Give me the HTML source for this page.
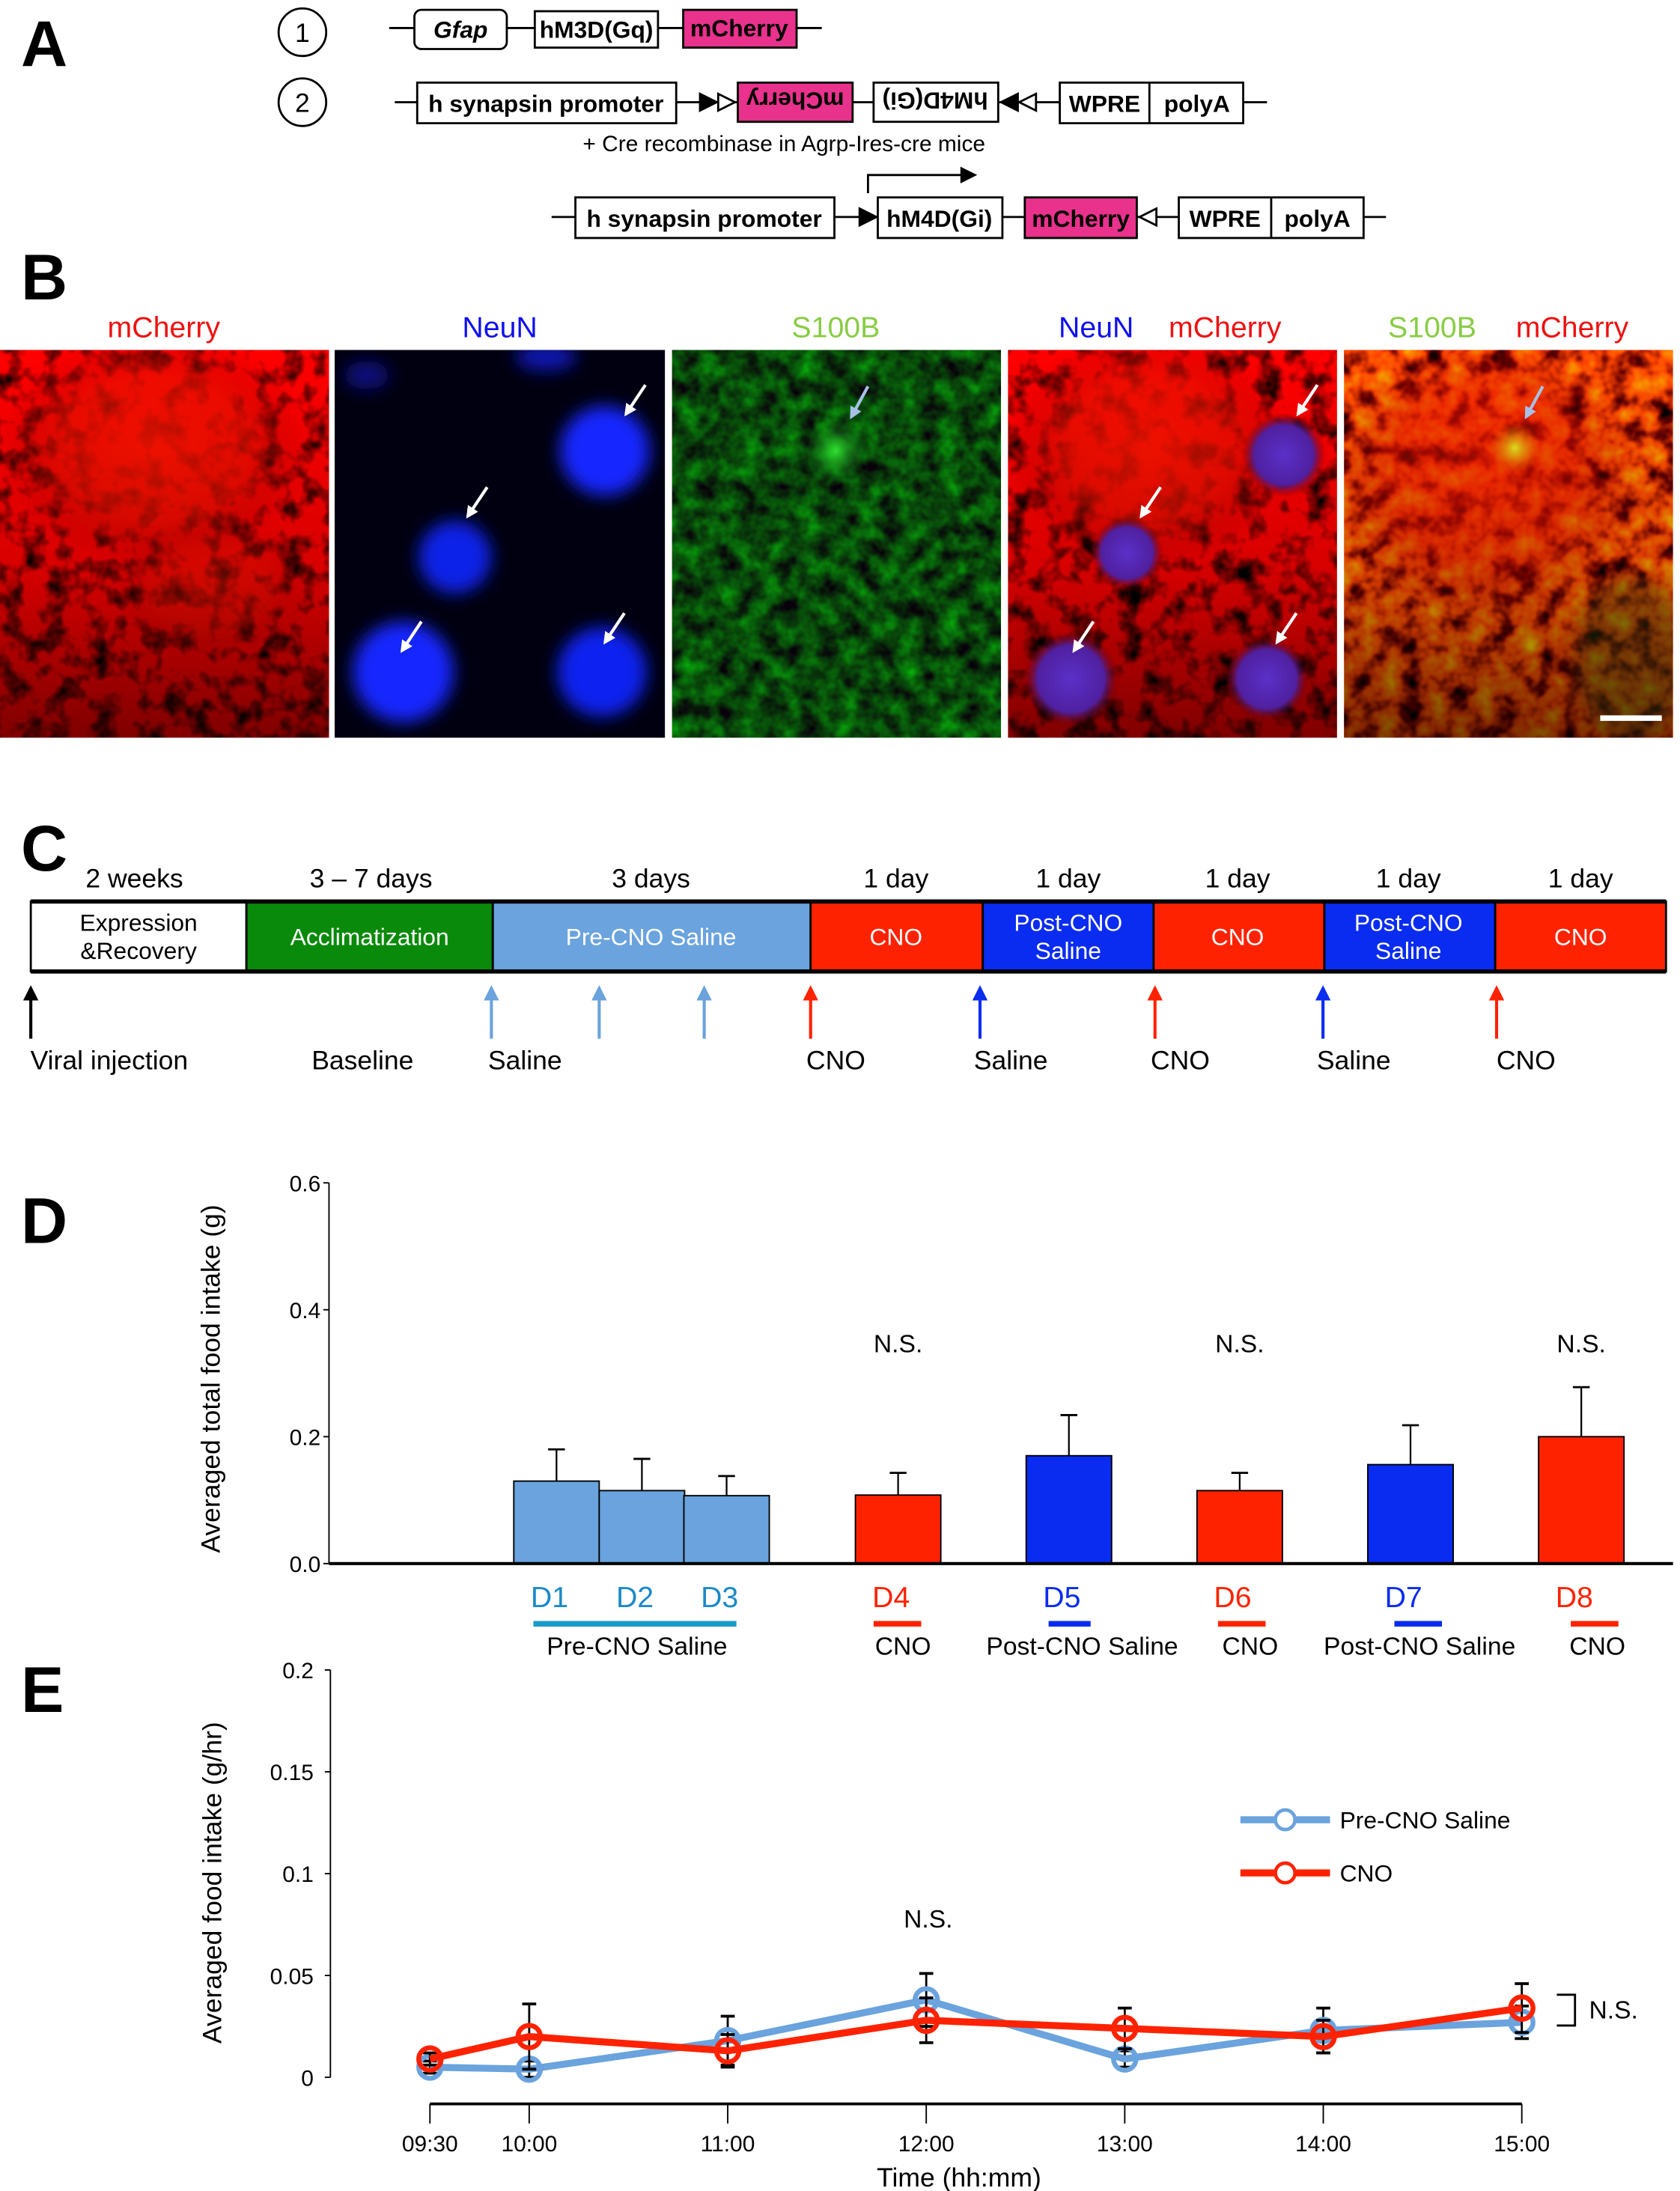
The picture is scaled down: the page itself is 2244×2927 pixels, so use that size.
<!DOCTYPE html>
<html><head><meta charset="utf-8"><style>
html,body{margin:0;padding:0;background:#fff;}
svg{display:block;font-family:"Liberation Sans",Arial,sans-serif;}
</style></head><body>
<svg id="fig" width="2244" height="2927" viewBox="0 0 1200 1565.2" xmlns="http://www.w3.org/2000/svg">
<defs>
<filter id="nR" x="0" y="0" width="1" height="1" color-interpolation-filters="sRGB"><feTurbulence type="fractalNoise" baseFrequency="0.06" numOctaves="3" seed="3"/><feColorMatrix values="2.6 0 0 0 -0.45  0 0 0 0 0  0 0 0 0 0  0 0 0 0 1"/></filter>
<filter id="nG" x="0" y="0" width="1" height="1" color-interpolation-filters="sRGB"><feTurbulence type="fractalNoise" baseFrequency="0.07" numOctaves="3" seed="7"/><feColorMatrix values="0 0 0 0 0.03  0.9 0 0 0 -0.17  0 0 0 0 0.04  0 0 0 0 1"/></filter>
<filter id="nY" x="0" y="0" width="1" height="1" color-interpolation-filters="sRGB"><feTurbulence type="fractalNoise" baseFrequency="0.06" numOctaves="3" seed="11"/><feColorMatrix values="2.6 0 0 0 -0.35  1.2 0 0 0 -0.35  0 0 0 0 0  0 0 0 0 1"/></filter>
<filter id="bl"><feGaussianBlur stdDeviation="6"/></filter>
<clipPath id="c1"><rect x="0" y="250" width="235" height="277"/></clipPath>
<clipPath id="c2"><rect x="239" y="250" width="236" height="277"/></clipPath>
<clipPath id="c3"><rect x="480" y="250" width="235" height="277"/></clipPath>
<clipPath id="c4"><rect x="720" y="250" width="235" height="277"/></clipPath>
<clipPath id="c5"><rect x="960" y="250" width="235" height="277"/></clipPath>
<linearGradient id="dark" x1="0" y1="0" x2="0" y2="1"><stop offset="0" stop-color="#000" stop-opacity="0"/><stop offset="0.55" stop-color="#000" stop-opacity="0.15"/><stop offset="1" stop-color="#000" stop-opacity="0.5"/></linearGradient>
<radialGradient id="gPur"><stop offset="0" stop-color="#5a30c8"/><stop offset="0.7" stop-color="#5020a0"/><stop offset="1" stop-color="#600" stop-opacity="0"/></radialGradient>
<radialGradient id="gRed"><stop offset="0" stop-color="#ff1500"/><stop offset="0.6" stop-color="#ee1000" stop-opacity="0.8"/><stop offset="1" stop-color="#a00" stop-opacity="0"/></radialGradient>
<radialGradient id="gGr"><stop offset="0" stop-color="#30e030"/><stop offset="1" stop-color="#0a6010" stop-opacity="0"/></radialGradient>
<radialGradient id="gYe"><stop offset="0" stop-color="#e8f020"/><stop offset="1" stop-color="#f08000" stop-opacity="0"/></radialGradient>
<marker id="aW" viewBox="0 0 10 10" refX="8" refY="5" markerWidth="4" markerHeight="4" orient="auto"><path d="M0,0 L10,5 L0,10 Z" fill="#fff"/></marker>
<marker id="aL" viewBox="0 0 10 10" refX="8" refY="5" markerWidth="4" markerHeight="4" orient="auto"><path d="M0,0 L10,5 L0,10 Z" fill="#a8c0e8"/></marker>
<marker id="aK" viewBox="0 0 10 10" refX="8" refY="5" markerWidth="5" markerHeight="5" orient="auto"><path d="M0,0 L10,5 L0,10 Z" fill="#000"/></marker>
<marker id="aS" viewBox="0 0 10 10" refX="8" refY="5" markerWidth="5" markerHeight="5" orient="auto"><path d="M0,0 L10,5 L0,10 Z" fill="#6aa3dd"/></marker>
<marker id="aR" viewBox="0 0 10 10" refX="8" refY="5" markerWidth="5" markerHeight="5" orient="auto"><path d="M0,0 L10,5 L0,10 Z" fill="#ff2200"/></marker>
<marker id="aB" viewBox="0 0 10 10" refX="8" refY="5" markerWidth="5" markerHeight="5" orient="auto"><path d="M0,0 L10,5 L0,10 Z" fill="#0a2cf0"/></marker>
</defs>

<!-- Panel A -->
<g>
<text x="15" y="47" font-size="46" font-weight="bold">A</text>
<circle cx="216" cy="23" r="17" fill="#fff" stroke="#000" stroke-width="1.5"/><text x="216" y="30" font-size="19" text-anchor="middle">1</text>
<circle cx="216" cy="73" r="17" fill="#fff" stroke="#000" stroke-width="1.5"/><text x="216" y="80" font-size="19" text-anchor="middle">2</text>
<g stroke="#000" stroke-width="1.5">
<line x1="278" y1="20" x2="587" y2="20"/>
<rect x="296" y="7" width="66" height="28" rx="5" fill="#fff"/>
<rect x="382" y="8" width="88" height="26" fill="#fff"/>
<rect x="488" y="7" width="81" height="27" fill="#e8328c"/>
</g>
<text x="329" y="27" font-size="17" font-style="italic" font-weight="bold" text-anchor="middle">Gfap</text>
<text x="426" y="27" font-size="17" font-weight="bold" text-anchor="middle">hM3D(Gq)</text>
<text x="528" y="26" font-size="17" font-weight="bold" text-anchor="middle">mCherry</text>
<g stroke="#000" stroke-width="1.5">
<line x1="282" y1="73" x2="905" y2="73"/>
<rect x="298" y="59" width="185" height="29" fill="#fff"/>
<rect x="527" y="59" width="82" height="28" fill="#e8328c"/>
<rect x="624" y="59" width="89" height="28" fill="#fff"/>
<rect x="757" y="59" width="131" height="29" fill="#fff"/><line x1="821" y1="59" x2="821" y2="88"/>
<path d="M500,67 L512,73 L500,79Z" fill="#000"/><path d="M513,67 L525,73 L513,79Z" fill="#fff"/>
<path d="M727,67 L715,73 L727,79Z" fill="#000"/><path d="M740,67 L728,73 L740,79Z" fill="#fff"/>
</g>
<text x="390" y="80" font-size="17" font-weight="bold" text-anchor="middle">h synapsin promoter</text>
<text x="568" y="80" font-size="17" font-weight="bold" text-anchor="middle" transform="rotate(180 568 73)">mCherry</text>
<text x="668" y="80" font-size="17" font-weight="bold" text-anchor="middle" transform="rotate(180 668 73)">hM4D(Gi)</text>
<text x="789" y="80" font-size="17" font-weight="bold" text-anchor="middle">WPRE</text>
<text x="855" y="80" font-size="17" font-weight="bold" text-anchor="middle">polyA</text>
<text x="560" y="108" font-size="16" text-anchor="middle">+ Cre recombinase in Agrp-Ires-cre mice</text>
<path d="M620,138 L620,125 L688,125" stroke="#000" stroke-width="1.5" fill="none"/><path d="M686,119 L698,125 L686,131Z"/>
<g stroke="#000" stroke-width="1.5">
<line x1="394" y1="155" x2="990" y2="155"/>
<rect x="411" y="141" width="185" height="29" fill="#fff"/>
<rect x="627" y="141" width="89" height="29" fill="#fff"/>
<rect x="732" y="141" width="80" height="29" fill="#e8328c"/>
<rect x="842" y="141" width="132" height="29" fill="#fff"/><line x1="908" y1="141" x2="908" y2="170"/>
<path d="M614,149 L626,155 L614,161Z" fill="#000"/><path d="M826,149 L814,155 L826,161Z" fill="#fff"/>
</g>
<text x="503" y="162" font-size="17" font-weight="bold" text-anchor="middle">h synapsin promoter</text>
<text x="671" y="162" font-size="17" font-weight="bold" text-anchor="middle">hM4D(Gi)</text>
<text x="772" y="162" font-size="17" font-weight="bold" text-anchor="middle">mCherry</text>
<text x="875" y="162" font-size="17" font-weight="bold" text-anchor="middle">WPRE</text>
<text x="941" y="162" font-size="17" font-weight="bold" text-anchor="middle">polyA</text>
</g>

<!-- Panel B -->
<g>
<text x="15" y="214" font-size="46" font-weight="bold">B</text>
<g font-size="21" text-anchor="middle">
<text x="117" y="241" fill="#ee1111">mCherry</text>
<text x="357" y="241" fill="#1010ee">NeuN</text>
<text x="597" y="241" fill="#88cc44">S100B</text>
<text x="783" y="241" fill="#1010ee">NeuN</text><text x="875" y="241" fill="#ee1111">mCherry</text>
<text x="1023" y="241" fill="#88cc44">S100B</text><text x="1123" y="241" fill="#ee1111">mCherry</text>
</g>
<g clip-path="url(#c1)">
<rect x="0" y="250" width="235" height="277" filter="url(#nR)"/>
<ellipse cx="110" cy="320" rx="110" ry="85" fill="url(#gRed)" opacity="0.85"/>
<ellipse cx="150" cy="420" rx="70" ry="50" fill="url(#gRed)" opacity="0.5"/>
<rect x="0" y="250" width="235" height="277" fill="url(#dark)"/>
</g>
<g clip-path="url(#c2)">
<rect x="239" y="250" width="236" height="277" fill="#000010"/>
<g filter="url(#bl)"><circle cx="432" cy="322" r="32" fill="#1525ff"/><circle cx="325" cy="398" r="26" fill="#1020e8"/><circle cx="288" cy="480" r="36" fill="#1525ff"/><circle cx="430" cy="480" r="32" fill="#1020f0"/><ellipse cx="390" cy="255" rx="22" ry="10" fill="#0c18b0"/><ellipse cx="262" cy="268" rx="16" ry="10" fill="#081080"/></g>
</g>
<g clip-path="url(#c3)">
<rect x="480" y="250" width="235" height="277" filter="url(#nG)"/>
<circle cx="597" cy="322" r="24" fill="url(#gGr)"/>
</g>
<g clip-path="url(#c4)">
<rect x="720" y="250" width="235" height="277" filter="url(#nR)"/>
<ellipse cx="820" cy="320" rx="100" ry="85" fill="url(#gRed)" opacity="0.85"/>
<rect x="720" y="250" width="235" height="277" fill="url(#dark)"/>
<circle cx="917" cy="325" r="30" fill="url(#gPur)"/><circle cx="805" cy="395" r="26" fill="url(#gPur)"/><circle cx="765" cy="485" r="34" fill="url(#gPur)"/><circle cx="905" cy="485" r="30" fill="url(#gPur)"/>
</g>
<g clip-path="url(#c5)">
<rect x="960" y="250" width="235" height="277" filter="url(#nY)"/>
<ellipse cx="1060" cy="340" rx="110" ry="100" fill="url(#gRed)" opacity="0.6"/>
<circle cx="1082" cy="320" r="18" fill="url(#gYe)"/>
<rect x="960" y="250" width="235" height="277" fill="url(#dark)"/>
<ellipse cx="1165" cy="470" rx="40" ry="60" fill="#1a4010" opacity="0.35" filter="url(#bl)"/>
<rect x="1143" y="511" width="44" height="4" fill="#fff"/>
</g>
<g stroke="#fff" stroke-width="2.2" fill="none" marker-end="url(#aW)">
<line x1="461" y1="275" x2="447" y2="296"/><line x1="348" y1="348" x2="334" y2="369"/><line x1="301" y1="444" x2="287" y2="465"/><line x1="446" y1="438" x2="432" y2="459"/>
<line x1="941" y1="275" x2="927" y2="296"/><line x1="829" y1="348" x2="815" y2="369"/><line x1="781" y1="444" x2="767" y2="465"/><line x1="926" y1="438" x2="912" y2="459"/>
</g>
<g stroke="#a8c0e8" stroke-width="2.2" fill="none" marker-end="url(#aL)"><line x1="620" y1="276" x2="608" y2="298"/><line x1="1102" y1="276" x2="1090" y2="298"/></g>
</g>

<!-- Panel C -->
<g>
<text x="15" y="622" font-size="46" font-weight="bold">C</text>
<g font-size="19" text-anchor="middle">
<text x="96" y="634">2 weeks</text><text x="265" y="634">3 – 7 days</text><text x="465" y="634">3 days</text>
<text x="640" y="634">1 day</text><text x="763" y="634">1 day</text><text x="884" y="634">1 day</text><text x="1006" y="634">1 day</text><text x="1129" y="634">1 day</text>
</g>
<g stroke="#000" stroke-width="1.5">
<rect x="22" y="644" width="154" height="50" fill="#fff"/>
<rect x="176" y="644" width="176" height="50" fill="#0a8a0a"/>
<rect x="352" y="644" width="227" height="50" fill="#6aa3dd"/>
<rect x="579" y="644" width="123" height="50" fill="#ff2200"/>
<rect x="702" y="644" width="122" height="50" fill="#0a2cf0"/>
<rect x="824" y="644" width="122" height="50" fill="#ff2200"/>
<rect x="946" y="644" width="122" height="50" fill="#0a2cf0"/>
<rect x="1068" y="644" width="122" height="50" fill="#ff2200"/>
<line x1="22" y1="644" x2="1190" y2="644" stroke-width="3"/><line x1="22" y1="694" x2="1190" y2="694" stroke-width="3"/>
</g>
<g font-size="17" text-anchor="middle" fill="#fff">
<text x="99" y="665" fill="#000">Expression</text><text x="99" y="685" fill="#000">&amp;Recovery</text>
<text x="264" y="675">Acclimatization</text><text x="465" y="675">Pre-CNO Saline</text>
<text x="640" y="675">CNO</text><text x="763" y="665">Post-CNO</text><text x="763" y="685">Saline</text>
<text x="884" y="675">CNO</text><text x="1006" y="665">Post-CNO</text><text x="1006" y="685">Saline</text><text x="1129" y="675">CNO</text>
</g>
<g stroke-width="2.2" fill="none">
<line x1="22" y1="742" x2="22" y2="706" stroke="#000" marker-end="url(#aK)"/>
<line x1="351" y1="742" x2="351" y2="706" stroke="#6aa3dd" marker-end="url(#aS)"/><line x1="428" y1="742" x2="428" y2="706" stroke="#6aa3dd" marker-end="url(#aS)"/><line x1="503" y1="742" x2="503" y2="706" stroke="#6aa3dd" marker-end="url(#aS)"/>
<line x1="579" y1="742" x2="579" y2="706" stroke="#ff2200" marker-end="url(#aR)"/><line x1="700" y1="742" x2="700" y2="706" stroke="#0a2cf0" marker-end="url(#aB)"/>
<line x1="825" y1="742" x2="825" y2="706" stroke="#ff2200" marker-end="url(#aR)"/><line x1="945" y1="742" x2="945" y2="706" stroke="#0a2cf0" marker-end="url(#aB)"/><line x1="1069" y1="742" x2="1069" y2="706" stroke="#ff2200" marker-end="url(#aR)"/>
</g>
<g font-size="19" text-anchor="middle">
<text x="78" y="764">Viral injection</text><text x="259" y="764">Baseline</text><text x="375" y="764">Saline</text>
<text x="597" y="764">CNO</text><text x="722" y="764">Saline</text><text x="843" y="764">CNO</text><text x="967" y="764">Saline</text><text x="1090" y="764">CNO</text>
</g>
</g>

<!-- Panel D -->
<g id="pd">
<text x="15" y="888" font-size="46" font-weight="bold">D</text>
<text x="0" y="0" font-size="19" text-anchor="middle" transform="translate(157 985) rotate(-90)">Averaged total food intake (g)</text>
</g>
<!-- Panel E -->
<g id="pe">
<text x="15" y="1223" font-size="46" font-weight="bold">E</text>
<text x="0" y="0" font-size="19" text-anchor="middle" transform="translate(158 1345) rotate(-90)">Averaged food intake (g/hr)</text>
<text x="685" y="1562" font-size="19" text-anchor="middle">Time (hh:mm)</text>
</g>
</svg>
<script>
const dDays = ["D1","D2","D3","D4","D5","D6","D7","D8"];
const dMeans = [0.13,0.115,0.107,0.108,0.17,0.115,0.156,0.2];
const dErrTops = [0.18,0.165,0.138,0.143,0.234,0.143,0.218,0.278];
const dTicks = [0,0.2,0.4,0.6];
const dTickLabels = ["0.0","0.2","0.4","0.6"];
const eTimes = [9.5,10,11,12,13,14,15];
const eTimeLabels = ["09:30","10:00","11:00","12:00","13:00","14:00","15:00"];
const eSaline = [0.005,0.004,0.018,0.038,0.009,0.023,0.027];
const eSalineErr = [0.003,0.004,0.012,0.013,0.004,0.011,0.008];
const eCno = [0.009,0.02,0.013,0.028,0.024,0.02,0.034];
const eCnoErr = [0.003,0.016,0.008,0.011,0.010,0.008,0.012];
const eTicks = [0,0.05,0.1,0.15,0.2];
const eTickLabels = ["0","0.05","0.1","0.15","0.2"];

const NS="http://www.w3.org/2000/svg";
function mk(p,tag,at,txt){const e=document.createElementNS(NS,tag);for(const k in at)e.setAttribute(k,at[k]);if(txt!==undefined)e.textContent=txt;p.appendChild(e);return e;}

// Panel D
const pd=document.getElementById('pd');
const dy=v=>1117-v/0.6*272;
const dSlots=[397.5,458.5,519,641.5,763.5,885.5,1007.5,1129.5];
const dColors=["#6aa3dd","#6aa3dd","#6aa3dd","#ff2200","#0a2cf0","#ff2200","#0a2cf0","#ff2200"];
const dLabelColors=["#1a8ac8","#1a8ac8","#1a8ac8","#ff2200","#0a2cf0","#ff2200","#0a2cf0","#ff2200"];
const dax=mk(pd,'line',{x1:235,y1:dy(0.6),x2:235,y2:1117,stroke:'#000','stroke-width':1});


dTicks.forEach((t,i)=>{
  mk(pd,'line',{x1:231,y1:dy(t),x2:235,y2:dy(t),stroke:'#000'});
  const tl=mk(pd,'text',{x:229,y:dy(t)+6,'font-size':16,'text-anchor':'end'},dTickLabels[i]);
  
  
});
dDays.forEach((d,i)=>{
  const cx=dSlots[i], w=61;
  mk(pd,'line',{x1:cx,y1:dy(dErrTops[i]),x2:cx,y2:dy(dMeans[i]),stroke:'#000','stroke-width':1.2});
  mk(pd,'line',{x1:cx-6,y1:dy(dErrTops[i]),x2:cx+6,y2:dy(dErrTops[i]),stroke:'#000','stroke-width':1.5});
  const b=mk(pd,'rect',{x:cx-w/2,y:dy(dMeans[i]),width:w,height:dy(0)-dy(dMeans[i]),fill:dColors[i],stroke:'#000','stroke-width':1});
  
  
  const l=mk(pd,'text',{x:cx-5,y:1148,'font-size':21,'text-anchor':'middle',fill:dLabelColors[i]},d);
  
  
});
const xa=mk(pd,'line',{x1:235,y1:1117,x2:1195,y2:1117,stroke:'#000','stroke-width':2.2});


mk(pd,'rect',{x:381,y:1158,width:145,height:4,fill:'#1a9ac8'});
[[624,658,"#ff2200"],[749,779,"#0a2cf0"],[870,904,"#ff2200"],[996,1030,"#0a2cf0"],[1122,1156,"#ff2200"]].forEach(u=>mk(pd,'rect',{x:u[0],y:1158,width:u[1]-u[0],height:4,fill:u[2]}));
[["Pre-CNO Saline",455],["CNO",645],["Post-CNO Saline",773],["CNO",893],["Post-CNO Saline",1014],["CNO",1141]].forEach(c=>{
  const t=mk(pd,'text',{x:c[1],y:1182,'font-size':18,'text-anchor':'middle'},c[0]);
  
  
});
[3,5,7].forEach(i=>{
  const t=mk(pd,'text',{x:dSlots[i],y:966,'font-size':18,'text-anchor':'middle'},"N.S.");
  
  
});

// Panel E
const pe=document.getElementById('pe');
const ey=v=>1484-v/0.2*291;
const ex=t=>378+(t-10)*141.8;
const yax=mk(pe,'line',{x1:236,y1:ey(0.2),x2:236,y2:ey(0),stroke:'#000','stroke-width':1});


eTicks.forEach((t,i)=>{
  mk(pe,'line',{x1:232,y1:ey(t),x2:236,y2:ey(t),stroke:'#000'});
  const tl=mk(pe,'text',{x:224,y:ey(t)+6,'font-size':16,'text-anchor':'end'},eTickLabels[i]);
  
  
});
const xax=mk(pe,'line',{x1:ex(9.5),y1:1503,x2:ex(15),y2:1503,stroke:'#000','stroke-width':2});


eTimes.forEach((t,i)=>{
  mk(pe,'line',{x1:ex(t),y1:1503,x2:ex(t),y2:1517,stroke:'#000'});
  const tl=mk(pe,'text',{x:ex(t),y:1537,'font-size':16,'text-anchor':'middle'},eTimeLabels[i]);
  
  
});
function series(vals,errs,color,name){
  const g=mk(pe,'g',{});
  
  
  vals.forEach((v,i)=>{
    const x=ex(eTimes[i]);
    mk(g,'line',{x1:x,y1:ey(v+errs[i]),x2:x,y2:ey(v-errs[i]),stroke:'#000','stroke-width':1.5});
    mk(g,'line',{x1:x-5,y1:ey(v+errs[i]),x2:x+5,y2:ey(v+errs[i]),stroke:'#000','stroke-width':2});
    mk(g,'line',{x1:x-5,y1:ey(v-errs[i]),x2:x+5,y2:ey(v-errs[i]),stroke:'#000','stroke-width':2});
  });
  mk(g,'polyline',{points:vals.map((v,i)=>ex(eTimes[i])+','+ey(v)).join(' '),fill:'none',stroke:color,'stroke-width':5,'stroke-linejoin':'round'});
  vals.forEach((v,i)=>{
    const c=mk(g,'circle',{cx:ex(eTimes[i]),cy:ey(v),r:8,fill:'none',stroke:color,'stroke-width':3.5});
    
    
  });
}
series(eSaline,eSalineErr,'#6aa3dd','series-pre-cno-saline');
series(eCno,eCnoErr,'#ff2200','series-cno');
const lg=mk(pe,'g',{});


mk(lg,'line',{x1:886,y1:1300,x2:950,y2:1300,stroke:'#6aa3dd','stroke-width':5});
mk(lg,'circle',{cx:918,cy:1300,r:7,fill:'#fff',stroke:'#6aa3dd','stroke-width':2.5});
mk(lg,'text',{x:957,y:1306,'font-size':17},'Pre-CNO Saline');
mk(lg,'line',{x1:886,y1:1338,x2:950,y2:1338,stroke:'#ff2200','stroke-width':5});
mk(lg,'circle',{cx:918,cy:1338,r:7,fill:'#fff',stroke:'#ff2200','stroke-width':2.5});
mk(lg,'text',{x:957,y:1344,'font-size':17},'CNO');
const ns1=mk(pe,'text',{x:663,y:1377,'font-size':18,'text-anchor':'middle'},'N.S.');


mk(pe,'path',{d:'M1112,1425 L1125,1425 L1125,1447 L1112,1447',fill:'none',stroke:'#000','stroke-width':1.5});
const ns2=mk(pe,'text',{x:1135,y:1442,'font-size':18},'N.S.');


</script>
</body></html>
